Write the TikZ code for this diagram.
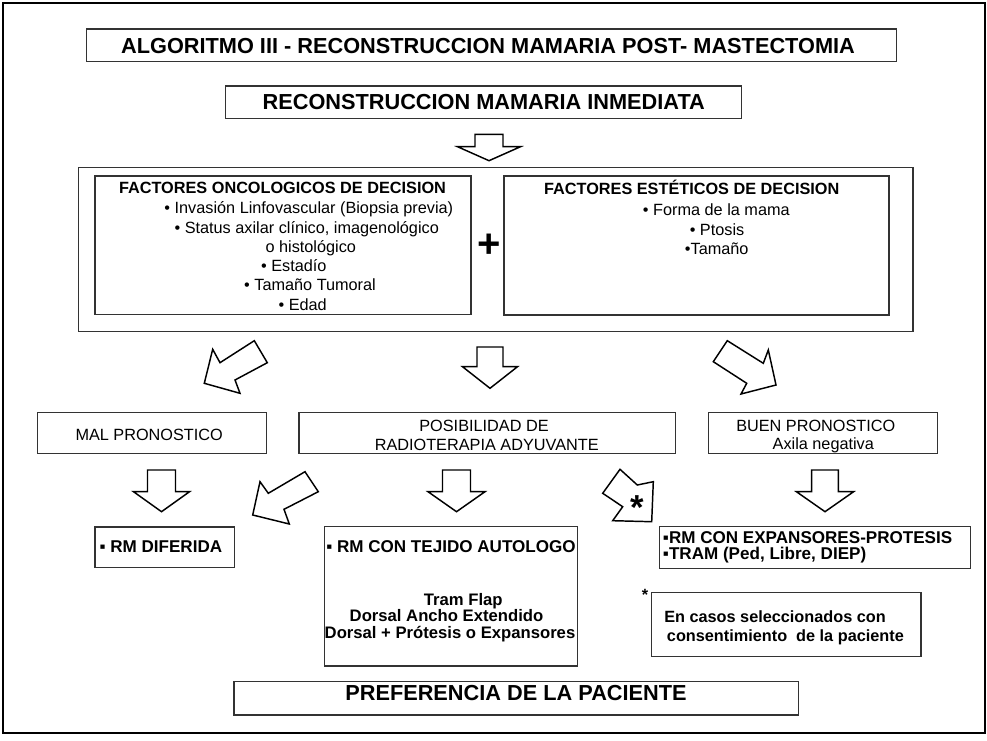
\documentclass[tikz,border=0pt]{standalone}
\usepackage{fontspec}
\setmainfont{Liberation Sans}
\usetikzlibrary{fit}
\newcommand\dnarrow[6]{\draw[blk] ({#1-#3},#2) -- ({#1+#3},#2) -- ({#1+#3},#5) -- ({#1+#4},#5) -- (#1,#6) -- ({#1-#4},#5) -- ({#1-#3},#5) -- cycle;}
\tikzset{
 frame/.style={draw=black, line width=1.5pt, inner sep=0pt},
 box/.style={draw=black!80, line width=0.8pt, inner sep=0pt},
 bigbox/.style={draw=black!80, line width=1.1pt, inner sep=0pt},
 blk/.style={draw=black, line width=1.1pt, fill=white, line join=miter},
 txt/.style={inner sep=0pt, anchor=base, font=\fontsize{12.2}{14}\selectfont},
 btxt/.style={inner sep=0pt, anchor=base, font=\fontsize{12.2}{14}\selectfont\bfseries},
 bbtxt/.style={inner sep=0pt, anchor=base west, font=\fontsize{12.8}{14}\selectfont\bfseries},
 ttl/.style={inner sep=0pt, anchor=base, font=\fontsize{16.3}{19}\selectfont\bfseries},
}
\begin{document}
\begin{tikzpicture}[x=0.75pt,y=-0.75pt]
\useasboundingbox (0,0) rectangle (987,741);
\node[frame, fit={(3.3,3.3) (985.3,733)}] (frame) {};
% titles
\node[box, fit={(86.7,29) (896.7,61.7)}] (t1) {};
\node[ttl] (t1txt) at (488,53.3) {ALGORITMO III - RECONSTRUCCION MAMARIA POST- MASTECTOMIA};
\node[box, fit={(225.7,86) (741.7,118.7)}] (t2) {};
\node[ttl] (t2txt) at (483.8,110) {RECONSTRUCCION MAMARIA INMEDIATA};
\dnarrow{489}{134.3}{14}{31.5}{146.7}{160.7}
% factors
\node[bigbox, fit={(78.5,167.5) (913,331.5)}] (factors) {};
\node[box, fit={(95,176) (471,314.5)}] (onco) {};
\node[box, fit={(504,176) (889,315)}] (estet) {};
\node[btxt] (oh) at (282.5,193.3) {FACTORES ONCOLOGICOS DE DECISION};
\node[txt] (o1) at (308.8,214) {• Invasión Linfovascular (Biopsia previa)};
\node[txt] (o2) at (306.7,233.4) {• Status axilar clínico, imagenológico};
\node[txt] (o3) at (310.8,252.6) {o histológico};
\node[txt] (o4) at (293.8,271.8) {• Estadío};
\node[txt] (o5) at (310,291) {• Tamaño Tumoral};
\node[txt] (o6) at (302.7,310.2) {• Edad};
\node[btxt] (eh) at (691.7,194.5) {FACTORES ESTÉTICOS DE DECISION};
\node[txt] (e1) at (716.3,216) {• Forma de la mama};
\node[txt] (e2) at (717,235.2) {• Ptosis};
\node[txt] (e3) at (716.7,254.4) {•Tamaño};
\node[inner sep=0pt, font=\fontsize{30}{30}\selectfont\bfseries] (plus) at (489.5,246) {+};
% arrows from factors
\draw[blk] (254.3,340.7) -- (220,362.7) -- (212.7,349.3) -- (204.3,383.3) -- (240,393.3) -- (235,380) -- (267.3,362.7) -- cycle;
\dnarrow{490}{347}{13}{27.5}{366.7}{388.3}
\draw[blk] (727.3,340.7) -- (763.3,363.3) -- (768.3,350) -- (776,385) -- (741,394) -- (746.7,383.3) -- (713.3,361.7) -- cycle;
% middle row
\node[box, fit={(37.3,412.7) (266.7,453.3)}] (mal) {};
\node[txt] (maltxt) at (149.2,440) {MAL PRONOSTICO};
\node[box, fit={(299,412.7) (675.7,453.3)}] (posib) {};
\node[txt] (p1) at (484,431.5) {POSIBILIDAD DE};
\node[txt] (p2) at (486.7,450) {RADIOTERAPIA ADYUVANTE};
\node[box, fit={(708.3,412.7) (937.3,453.3)}] (buen) {};
\node[txt] (b1) at (815.8,431) {BUEN PRONOSTICO};
\node[txt] (b2) at (823.3,449.6) {Axila negativa};
% lower arrows
\dnarrow{161.5}{470}{14}{28}{491.7}{511.7}
\draw[blk] (305,471.7) -- (268.3,493.3) -- (260,481.7) -- (252.7,515) -- (289.3,524) -- (284,509.3) -- (318.3,491.7) -- cycle;
\dnarrow{456.5}{470}{14}{28.5}{491.7}{511.7}
\draw[blk] (620,469.3) -- (637.3,485) -- (653.3,481.7) -- (651.7,521.7) -- (612.7,520.7) -- (622.7,506.7) -- (602.7,493.3) -- cycle;
\node[inner sep=0pt, anchor=base, font=\fontsize{26}{26}\selectfont\bfseries] (star) at (637,519) {*};
\dnarrow{825}{470}{13.3}{28.6}{491.7}{511.7}
% bottom boxes
\node[box, fit={(95,527) (234.3,567.3)}] (dif) {};
\node[bbtxt] (diftxt) at (99.3,552.7) {▪ RM DIFERIDA};
\node[box, fit={(324.3,526.7) (577.3,666)}] (tej) {};
\node[bbtxt] (tej0) at (326,552.7) {▪ RM CON TEJIDO AUTOLOGO};
\node[btxt, font=\fontsize{12.5}{14}\selectfont\bfseries] (tej1) at (463.3,605) {Tram Flap};
\node[btxt, font=\fontsize{12.5}{14}\selectfont\bfseries] (tej2) at (446.5,621.7) {Dorsal Ancho Extendido};
\node[btxt, font=\fontsize{12.5}{14}\selectfont\bfseries] (tej3) at (450,638.3) {Dorsal + Prótesis o Expansores};
\node[box, fit={(659.3,526.7) (970.7,568.3)}] (exp) {};
\node[bbtxt] (exp1) at (662.7,543.3) {▪RM CON EXPANSORES-PROTESIS};
\node[bbtxt] (exp2) at (662.7,559.3) {▪TRAM (Ped, Libre, DIEP)};
\node[btxt] (smallstar) at (645,600) {*};
\node[box, fit={(651.7,592.7) (921,656.7)}] (casos) {};
\node[btxt, anchor=base west] (c1) at (664,622.7) {En casos seleccionados con};
\node[btxt, anchor=base west] (c2) at (666.7,641.7) {consentimiento\ \ de la paciente};
\node[box, fit={(234,681.7) (798.3,715)}] (pref) {};
\node[ttl] (preftxt) at (516,700) {PREFERENCIA DE LA PACIENTE};
\end{tikzpicture}
\end{document}
